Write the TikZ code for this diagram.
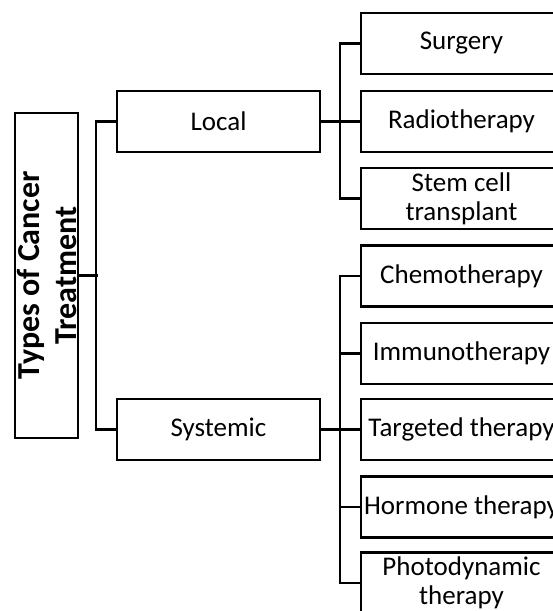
\documentclass[tikz,border=0pt]{standalone}
\usepackage{fontspec}
\setmainfont{Carlito}
\usepackage{tikz}
\usetikzlibrary{positioning}

\begin{document}
\begin{tikzpicture}[x=1pt, y=-1pt,
      box/.style={rectangle, draw, line width=2.5pt, align=center, font=\fontsize{27}{29}\selectfont, inner sep=1pt, minimum width=201pt, minimum height=61pt},
      lnk/.style={line width=2.5pt}]
    \path[use as bounding box, fill=white] (0,0) rectangle (553,611);
    \node[box, rotate=90, minimum width=325pt, minimum height=63pt, font=\fontsize{32}{37}\selectfont\bfseries] (t) at (46.5,275.5) {Types of Cancer\\Treatment};
    \node[box, minimum width=203pt] (loc) at (218.5,121.5) {Local}; \node[box, minimum width=203pt] (sys) at (218.5,429.5) {Systemic};
    \node[box] (sur) at (461.5,43.5) {Surgery}; \node[box] (rad) at (461.5,121.5) {Radiotherapy};
    \node[box] (stem) at (461.5,198.5) {Stem cell\\transplant};
    \node[box] (chemo) at (461.5,276) {Chemotherapy}; \node[box] (immu) at (461.5,353.5) {Immunotherapy};
    \node[box] (targ) at (461.5,429.5) {Targeted therapy}; \node[box] (horm) at (461.5,507) {Hormone therapy};
    \node[box] (photo) at (461.5,583) {Photodynamic\\therapy};
    \draw[lnk] (t.south) -- ++(19,0); \draw[lnk] (loc.west) -- ++(-20,0) |- (sys.west);
    \draw[lnk] (loc.east) -- (rad.west); \draw[lnk] (sur.west) -- ++(-20,0) |- (stem.west);
    \draw[lnk] (sys.east) -- (targ.west); \draw[lnk] (chemo.west) -- ++(-20,0) |- (photo.west);
    \draw[lnk] (immu.west) -- ++(-20,0); \draw[lnk] (horm.west) -- ++(-20,0);
  \end{tikzpicture}
\end{document}
